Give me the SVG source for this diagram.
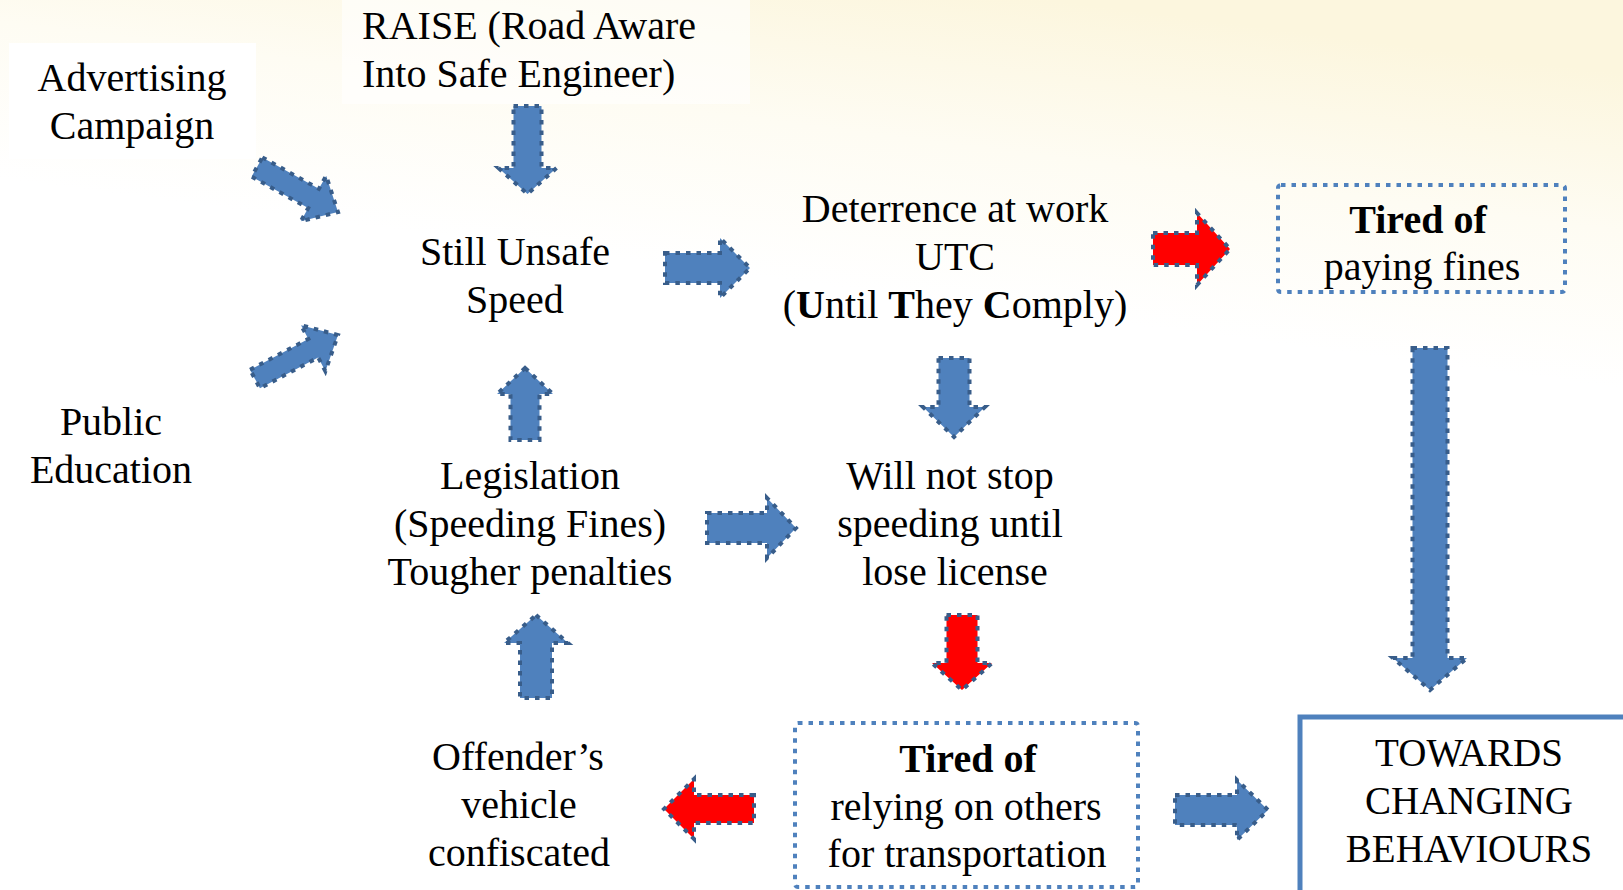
<svg xmlns="http://www.w3.org/2000/svg" width="1623" height="890" viewBox="0 0 1623 890">
  <defs>
    <linearGradient id="bg" gradientUnits="userSpaceOnUse" x1="820" y1="-30" x2="780" y2="280">
      <stop offset="0" stop-color="#FCF6DE"/>
      <stop offset="0.5" stop-color="#FEFCF3"/>
      <stop offset="1" stop-color="#FFFFFF"/>
    </linearGradient>
  </defs>
  <style>
    .t { font-family: "Liberation Serif", "Times New Roman", serif; font-size: 40px; fill: #000; text-anchor: middle; }
    .tl { text-anchor: start; }
    .b { font-weight: bold; }
    .ab { fill: #4F81BD; stroke: #385D8A; stroke-width: 4; stroke-dasharray: 4.5 6; stroke-linejoin: miter; }
    .ar { fill: #FF0000; stroke: #385D8A; stroke-width: 4; stroke-dasharray: 4.5 6; stroke-linejoin: miter; }
    .dotbox { fill: none; stroke: #4F81BD; stroke-width: 4; stroke-dasharray: 4.5 6; }
    .solidbox { fill: #FFFFFF; stroke: #4F81BD; stroke-width: 5; }
  </style>

  <rect x="0" y="0" width="1623" height="890" fill="url(#bg)"/>

  <g id="advertising">
    <rect x="9" y="43" width="247" height="116" fill="#FFFFFF"/>
    <text class="t" x="132" y="91">Advertising</text>
    <text class="t" x="132" y="139">Campaign</text>
  </g>

  <g id="raise">
    <rect x="342" y="0" width="408" height="104" fill="#FFFFFF" opacity="0.6"/>
    <text class="t tl" x="362" y="39">RAISE (Road Aware</text>
    <text class="t tl" x="362" y="87">Into Safe Engineer)</text>
  </g>

  <g id="public-education">
    <text class="t" x="111" y="435">Public</text>
    <text class="t" x="111" y="483">Education</text>
  </g>

  <g id="still-unsafe">
    <text class="t" x="515" y="265">Still Unsafe</text>
    <text class="t" x="515" y="313">Speed</text>
  </g>

  <g id="deterrence">
    <text class="t" x="955" y="222">Deterrence at work</text>
    <text class="t" x="955" y="270">UTC</text>
    <text class="t" x="955" y="318">(<tspan class="b">U</tspan>ntil <tspan class="b">T</tspan>hey <tspan class="b">C</tspan>omply)</text>
  </g>

  <g id="tired-fines">
    <rect class="dotbox" x="1278" y="185" width="287" height="107" rx="3"/>
    <text class="t b" x="1418" y="233">Tired of</text>
    <text class="t" x="1422" y="280">paying fines</text>
  </g>

  <g id="legislation">
    <text class="t" x="530" y="489">Legislation</text>
    <text class="t" x="530" y="537">(Speeding Fines)</text>
    <text class="t" x="530" y="585">Tougher penalties</text>
  </g>

  <g id="will-not-stop">
    <text class="t" x="950" y="489">Will not stop</text>
    <text class="t" x="950" y="537">speeding until</text>
    <text class="t" x="955" y="585">lose license</text>
  </g>

  <g id="offender">
    <text class="t" x="518" y="770">Offender’s</text>
    <text class="t" x="519" y="818">vehicle</text>
    <text class="t" x="519" y="866">confiscated</text>
  </g>

  <g id="tired-relying">
    <rect class="dotbox" x="795" y="723" width="343" height="164" rx="3"/>
    <text class="t b" x="968" y="772">Tired of</text>
    <text class="t" x="966" y="820">relying on others</text>
    <text class="t" x="967" y="867">for transportation</text>
  </g>

  <g id="towards">
    <rect class="solidbox" x="1300" y="717" width="400" height="300"/>
    <text class="t" x="1469" y="766" style="font-size:39px">TOWARDS</text>
    <text class="t" x="1469" y="814" style="font-size:39px">CHANGING</text>
    <text class="t" x="1469" y="862" style="font-size:39px">BEHAVIOURS</text>
  </g>

  <g id="connectors">
    <path class="ab" transform="translate(257,167) rotate(29.1)" d="M0,-11 L64.7,-11 L64.7,-26 L92.7,0 L64.7,26 L64.7,11 L0,11 Z"/>
    <path class="ab" transform="translate(255,379) rotate(-27.9)" d="M0,-10.5 L65.9,-10.5 L65.9,-26 L93.9,0 L65.9,26 L65.9,10.5 L0,10.5 Z"/>
    <path class="ab" d="M513.5,106 L541.5,106 L541.5,168 L556.5,168 L527.5,194 L498.5,168 L513.5,168 Z"/>
    <path class="ab" d="M665,253 L720,253 L720,238 L750,268 L720,298 L720,283 L665,283 Z"/>
    <path class="ab" d="M525,368 L553,394 L539.5,394 L539.5,440 L510.5,440 L510.5,394 L497,394 Z"/>
    <path class="ab" d="M536,615 L568,643 L552,643 L552,698 L520,698 L520,643 L504,643 Z"/>
    <path class="ab" d="M707,513 L767,513 L767,498 L796,528 L767,558 L767,543 L707,543 Z"/>
    <path class="ab" d="M938.5,358 L969.5,358 L969.5,407 L985,407 L954,437 L923,407 L938.5,407 Z"/>
    <path class="ar" d="M946.5,615 L977.5,615 L977.5,663 L992,663 L962,690 L932,663 L946.5,663 Z"/>
    <path class="ar" d="M754,795 L694,795 L694,779 L664,809 L694,839 L694,823 L754,823 Z"/>
    <path class="ab" d="M1175,795 L1237,795 L1237,780 L1268,810 L1237,840 L1237,825 L1175,825 Z"/>
    <path class="ar" d="M1153,233 L1197,233 L1197,213 L1230,249 L1197,285 L1197,265 L1153,265 Z"/>
    <path class="ab" d="M1412.5,348 L1447.5,348 L1447.5,658 L1467,658 L1430,690 L1393,658 L1412.5,658 Z"/>
  </g>
</svg>
